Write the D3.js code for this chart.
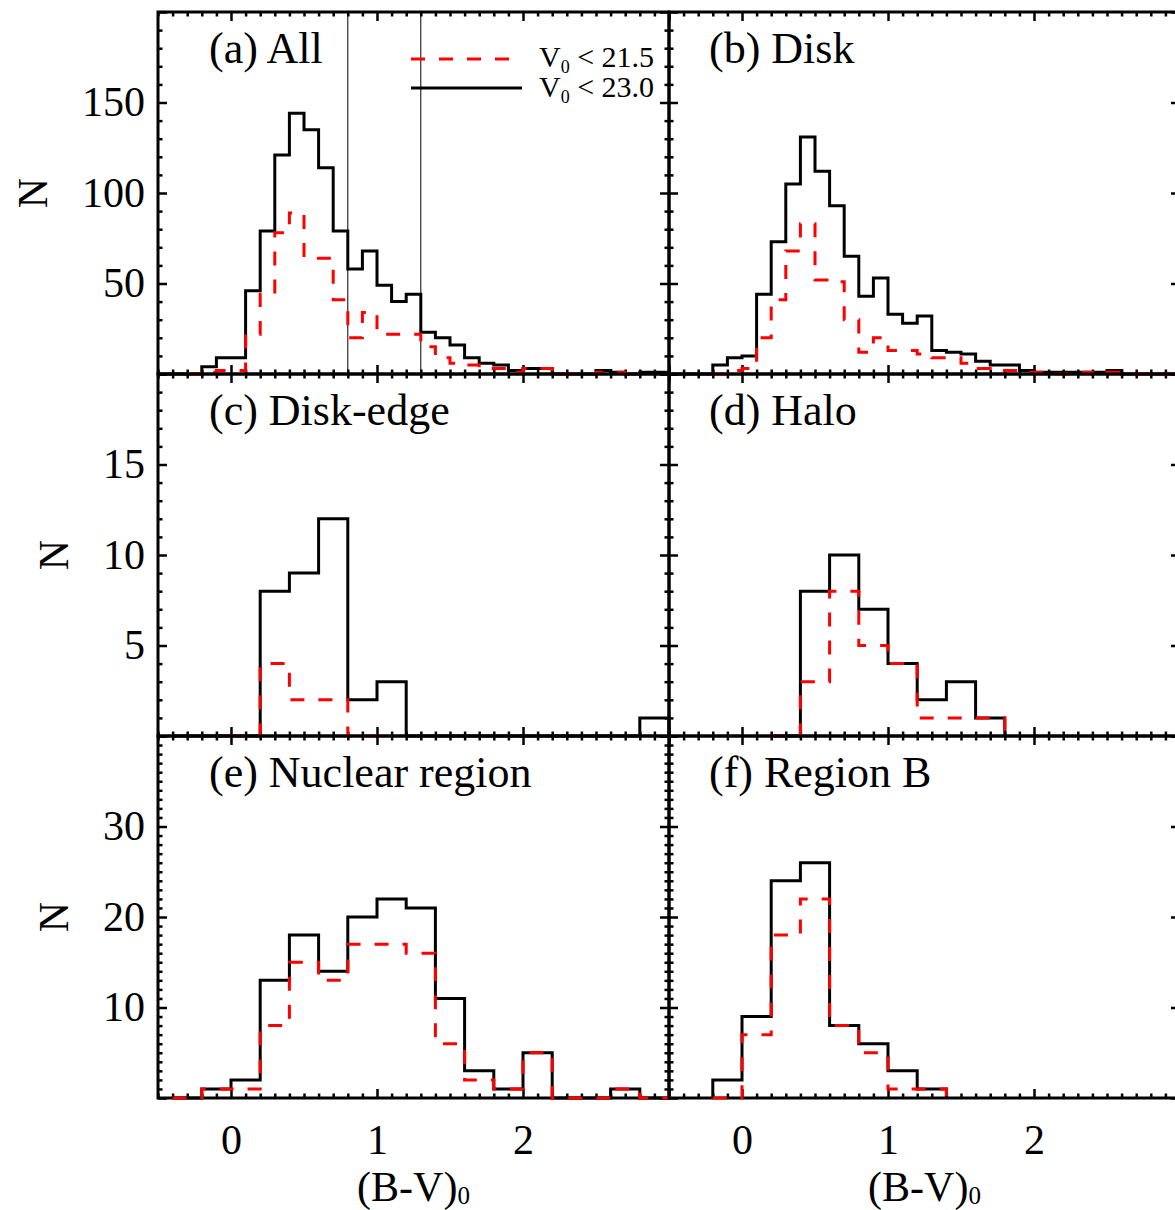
<!DOCTYPE html>
<html><head><meta charset="utf-8">
<script src="https://cdn.jsdelivr.net/npm/d3@7"></script>
<style>
body{margin:0;background:#fff;}
svg text{font-family:"Liberation Serif","Times New Roman",serif;fill:#000;}
</style></head><body>
<svg id="c" width="1175" height="1210"></svg>
<script>
// ---------- data ----------
const panelLabels = ["(a) All","(b) Disk","(c) Disk-edge","(d) Halo","(e) Nuclear region","(f) Region B"];
const xTickLabels = [0,1,2];
const xMajorTicks = [0,1,2,3];
const yMaxRows = [200,20,40];
const yMajorRows = [[0,50,100,150,200],[0,5,10,15,20],[0,10,20,30,40]];
const yLabelRows = [[50,100,150],[5,10,15],[10,20,30]];
const yMinorStepRows = [10,1,1];
const legendSub = "0";
const legendTexts = [" < 21.5"," < 23.0"];
const markerLines = [0.8,1.3];

const binWidths  = [0.1,0.1,0.2,0.2,0.2,0.2];
const blackStart = [-0.5,-0.5,-0.4,0.2,-0.4,-0.2];
const redStart   = [-0.3,-0.2,0.0,0.2,-0.4,-0.2];

const aBlack = [0,0,0,4,9,9,46,79,121,144,135,114,79,58,68,49,40,44,23,20,16,9,6,5,2,3,3,0,0,0,2,1,0,1,1];
const aRed   = [0,1,2,2,22,44,78,89,64,64,41,20,34,22,22,22,15,9,6,5,3,3,1,3,3,0,0,0,1,1];
const bBlack = [0,0,0,5,9,10,44,73,105,131,112,93,65,43,53,33,28,32,13,12,11,7,5,5,2,1,1,1,1,1,2,0,0,0,0];
const bRed   = [0,2,3,20,41,68,83,52,51,30,12,20,13,13,11,9,9,6,3,2,2,1,1,0,0,1,0,1,0,0,0,0];
const cBlack = [0,0,0,8,9,12,2,3,0,0,0,0,0,0,0,0,1];
const cRed   = [0,4,2,2,0];
const dBlack = [0,8,10,7,4,2,3,1];
const dRed   = [0,3,8,5,4,1,1,1];
const eBlack = [0,1,2,13,18,14,20,22,21,11,3,1,5,0,0,1,0];
const eRed   = [0,1,1,8,15,13,17,17,16,6,2,1,5,0,0,1,0];
const fBlack = [2,9,24,26,8,6,3,1];
const fRed   = [0,7,18,22,8,5,1,1];

const blackSeries = [aBlack,bBlack,cBlack,dBlack,eBlack,fBlack];
const redSeries   = [aRed,bRed,cRed,dRed,eRed,fRed];

// ---------- layout ----------
const colLeft = [158, 669];
const rowTop = [12, 374, 736];
const PW = 511, PH = 362;
const labelX = [209, 709];
const FS = 42;
const LFS = 44;

const svg = d3.select("#c");
const defs = svg.append("defs");

function stepPath(x, y, start, w, vals){
  const p = d3.path();
  p.moveTo(x(start), y(0));
  vals.forEach((v,i)=>{
    const l = start + i*w, r = start + (i+1)*w;
    p.lineTo(x(l), y(v));
    p.lineTo(x(r), y(v));
  });
  p.lineTo(x(start + vals.length*w), y(0));
  return p.toString();
}

function styleTicks(sel, w){
  sel.select(".domain").remove();
  sel.selectAll(".tick line").attr("stroke","#000").attr("stroke-width",w);
}

for (let k=0;k<6;k++){
  const row = Math.floor(k/2), col = k%2;
  const L = colLeft[col], T = rowTop[row], R = L+PW, B = T+PH;
  const x = d3.scaleLinear().domain([-0.5,3.0]).range([L,R]);
  const y = d3.scaleLinear().domain([0,yMaxRows[row]]).range([B,T]);
  const g = svg.append("g");

  g.append("rect").attr("x",L).attr("y",T).attr("width",PW).attr("height",PH)
    .attr("fill","none").attr("stroke","#000").attr("stroke-width",3);

  const xMinor = d3.range(-5,31).map(i=>i/10).filter(v=>Math.abs(v-Math.round(v))>1e-6);
  const step = yMinorStepRows[row];
  const yMinor = d3.range(0, yMaxRows[row]+step/2, step).filter(v=>!yMajorRows[row].includes(v));

  g.append("g").attr("transform",`translate(0,${B})`)
    .call(d3.axisBottom(x).tickValues(xMajorTicks).tickSize(-9).tickFormat("")).call(s=>styleTicks(s,2.5));
  g.append("g").attr("transform",`translate(0,${B})`)
    .call(d3.axisBottom(x).tickValues(xMinor).tickSize(-4.5).tickFormat("")).call(s=>styleTicks(s,2.5));
  g.append("g").attr("transform",`translate(0,${T})`)
    .call(d3.axisTop(x).tickValues(xMajorTicks).tickSize(-9).tickFormat("")).call(s=>styleTicks(s,2.5));
  g.append("g").attr("transform",`translate(0,${T})`)
    .call(d3.axisTop(x).tickValues(xMinor).tickSize(-4.5).tickFormat("")).call(s=>styleTicks(s,2.5));
  g.append("g").attr("transform",`translate(${L},0)`)
    .call(d3.axisLeft(y).tickValues(yMajorRows[row]).tickSize(-9).tickFormat("")).call(s=>styleTicks(s,2.5));
  g.append("g").attr("transform",`translate(${L},0)`)
    .call(d3.axisLeft(y).tickValues(yMinor).tickSize(-4.5).tickFormat("")).call(s=>styleTicks(s,2.5));
  g.append("g").attr("transform",`translate(${R},0)`)
    .call(d3.axisRight(y).tickValues(yMajorRows[row]).tickSize(-9).tickFormat("")).call(s=>styleTicks(s,2.5));
  g.append("g").attr("transform",`translate(${R},0)`)
    .call(d3.axisRight(y).tickValues(yMinor).tickSize(-4.5).tickFormat("")).call(s=>styleTicks(s,2.5));

  const cid = "clip"+k;
  defs.append("clipPath").attr("id",cid).append("rect")
    .attr("x",L-2).attr("y",T-2).attr("width",PW+4).attr("height",PH+4);
  const hg = g.append("g").attr("clip-path",`url(#${cid})`);

  if (k===0){
    markerLines.forEach(v=>{
      hg.append("line").attr("x1",x(v)).attr("x2",x(v)).attr("y1",T).attr("y2",B)
        .attr("stroke","#000").attr("stroke-width",1);
    });
  }

  hg.append("path").attr("d",stepPath(x,y,blackStart[k],binWidths[k],blackSeries[k]))
    .attr("fill","none").attr("stroke","#000").attr("stroke-width",3).attr("stroke-linejoin","miter");
  hg.append("path").attr("d",stepPath(x,y,redStart[k],binWidths[k],redSeries[k]))
    .attr("fill","none").attr("stroke","#ff0000").attr("stroke-width",3)
    .attr("stroke-dasharray","14,14").attr("stroke-linejoin","miter");

  g.append("text").attr("x",labelX[col]).attr("y",T+51).attr("font-size",LFS).text(panelLabels[k]);

  if (col===0){
    const yl = g.append("g").attr("transform",`translate(${L},0)`)
      .call(d3.axisLeft(y).tickValues(yLabelRows[row]).tickSize(0).tickPadding(13));
    yl.select(".domain").remove();
    yl.attr("font-family",null).attr("font-size",null);
    yl.selectAll("text").attr("font-size",FS).attr("fill","#000")
      .style("font-family",'"Liberation Serif","Times New Roman",serif');
    const bb = yl.node().getBBox();
    const bx = L + bb.x - 35;
    g.append("text").attr("transform",`translate(${bx},${(T+B)/2}) rotate(-90)`)
      .attr("text-anchor","middle").attr("font-size",FS).text("N");
  }
  if (row===2){
    const xl = g.append("g").attr("transform",`translate(0,${B})`)
      .call(d3.axisBottom(x).tickValues(xTickLabels).tickSize(0).tickPadding(26).tickFormat(d3.format("d")));
    xl.select(".domain").remove();
    xl.attr("font-family",null).attr("font-size",null);
    xl.selectAll("text").attr("font-size",FS).attr("fill","#000")
      .style("font-family",'"Liberation Serif","Times New Roman",serif');
    const t = g.append("text").attr("x",(L+R)/2).attr("y",1201).attr("text-anchor","middle").attr("font-size",FS);
    t.append("tspan").text("(B-V)");
    t.append("tspan").attr("font-size",25).attr("dy",3).text("0");
  }

  if (k===0){
    g.append("line").attr("x1",411).attr("x2",521).attr("y1",59).attr("y2",59)
      .attr("stroke","#ff0000").attr("stroke-width",3).attr("stroke-dasharray","14,14");
    g.append("line").attr("x1",411).attr("x2",522).attr("y1",88).attr("y2",88)
      .attr("stroke","#000").attr("stroke-width",3);
    [67,97].forEach((yy,i)=>{
      const t = g.append("text").attr("x",539).attr("y",yy).attr("font-size",30);
      t.append("tspan").text("V");
      t.append("tspan").attr("font-size",18).attr("dy",6).text(legendSub);
      t.append("tspan").attr("dy",-6).text(legendTexts[i]);
    });
  }
}
</script>
</body></html>
